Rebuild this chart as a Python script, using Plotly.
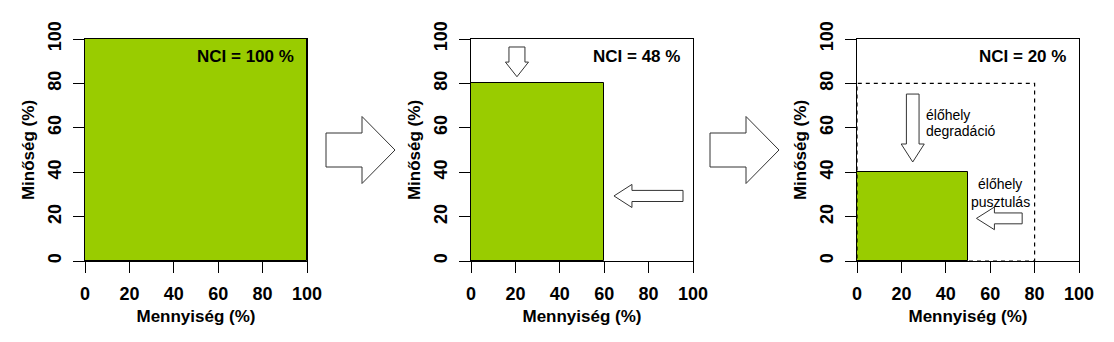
import plotly.graph_objects as go

# ---- data ----
panel_quantity = [100, 60, 50]      # Mennyiség (%)
panel_quality = [100, 80, 40]       # Minőség (%)
panel_nci = [100, 48, 20]           # NCI (%)
ref_box_quantity = 80               # dashed previous extent (panel 3)
ref_box_quality = 80
tick_vals = [0, 20, 40, 60, 80, 100]
x_title = "Mennyiség (%)"
y_title = "Minőség (%)"
label_degradation = ["élőhely", "degradáció"]
label_loss = ["élőhely", "pusztulás"]

W, H = 1114, 342
GREEN = "#99CC00"
FONT = "Liberation Sans, Arial, sans-serif"

# panel layout in pixels
panel_left = [85, 471, 857]
panel_w = 222
panel_top, panel_bottom = 39, 261

fig = go.Figure()

for i in range(3):
    n = "" if i == 0 else str(i + 1)
    xa, ya = "x" + n, "y" + n
    q, ql = panel_quantity[i], panel_quality[i]
    fig.add_trace(go.Bar(
        x=[q / 2], y=[ql], width=[q], base=0,
        marker=dict(color=GREEN, line=dict(color="black", width=1)),
        xaxis=xa, yaxis=ya, showlegend=False, hoverinfo="skip"))
    fig.add_annotation(
        x=95, y=92, xref=xa, yref=ya, text=f"NCI = {panel_nci[i]} %",
        showarrow=False, xanchor="right", yanchor="middle",
        font=dict(family=FONT, size=17, color="black", weight="bold"))

# dashed reference box on panel 3
rx, ry = ref_box_quantity, ref_box_quality
fig.add_trace(go.Scatter(
    x=[0, rx, rx, 0, 0], y=[0, 0, ry, ry, 0], mode="lines",
    line=dict(color="black", width=1.2, dash="4px,4px"),
    xaxis="x3", yaxis="y3", showlegend=False, hoverinfo="skip"))

axis_common = dict(
    range=[0, 100], showline=True, linecolor="black", linewidth=1, mirror=True,
    ticks="outside", ticklen=11, tickwidth=1, tickcolor="black",
    tickvals=tick_vals, showgrid=False, zeroline=False, automargin=False,
    tickfont=dict(family=FONT, size=18, color="black", weight="bold"),
)

ydom = [1 - panel_bottom / H, 1 - panel_top / H]
layout_axes = {}
for i in range(3):
    n = "" if i == 0 else str(i + 1)
    x0 = panel_left[i] / W
    x1 = (panel_left[i] + panel_w) / W
    layout_axes["xaxis" + n] = dict(
        axis_common, domain=[x0, x1], anchor="y" + n,
        ticklabelstandoff=5,
        title=dict(text=x_title, standoff=7,
                   font=dict(family=FONT, size=17, color="black", weight="bold")))
    layout_axes["yaxis" + n] = dict(
        axis_common, domain=ydom, anchor="x" + n, tickangle=-90,
        ticklabelstandoff=5,
        title=dict(text=y_title, standoff=5,
                   font=dict(family=FONT, size=17, color="black", weight="bold")))

fig.update_layout(**layout_axes)


# ---- arrows (decorations) ----
def down_arrow(xc, ytop, yhead, ytip, shw, hhw):
    return (f"M {xc-shw},{ytop} L {xc+shw},{ytop} L {xc+shw},{yhead} "
            f"L {xc+hhw},{yhead} L {xc},{ytip} L {xc-hhw},{yhead} "
            f"L {xc-shw},{yhead} Z")


def left_arrow(xtip, xhead, xend, yc, shh, hhh):
    return (f"M {xend},{yc+shh} L {xhead},{yc+shh} L {xhead},{yc+hhh} "
            f"L {xtip},{yc} L {xhead},{yc-hhh} L {xhead},{yc-shh} "
            f"L {xend},{yc-shh} Z")


def right_arrow_px(xstart, xhead, xtip, yc, shh, hhh):
    px = lambda v: v / W
    py = lambda v: 1 - v / H
    return (f"M {px(xstart)},{py(yc-shh)} L {px(xhead)},{py(yc-shh)} "
            f"L {px(xhead)},{py(yc-hhh)} L {px(xtip)},{py(yc)} "
            f"L {px(xhead)},{py(yc+hhh)} L {px(xhead)},{py(yc+shh)} "
            f"L {px(xstart)},{py(yc+shh)} Z")


arrow_line = dict(color="#333333", width=1)
shapes = [
    dict(type="path", xref="paper", yref="paper",
         path=right_arrow_px(326, 362, 395, 150, 17, 33.5),
         line=arrow_line, fillcolor="white"),
    dict(type="path", xref="paper", yref="paper",
         path=right_arrow_px(710, 746, 779, 150, 17, 33.5),
         line=arrow_line, fillcolor="white"),
    dict(type="path", xref="x2", yref="y2",
         path=down_arrow(20.7, 96.4, 89.6, 83, 3.6, 5.2),
         line=arrow_line, fillcolor="white"),
    dict(type="path", xref="x2", yref="y2",
         path=left_arrow(64.4, 72.5, 95.5, 29.3, 2.5, 5.2),
         line=arrow_line, fillcolor="white"),
    dict(type="path", xref="x3", yref="y3",
         path=down_arrow(25.1, 75.2, 52.7, 44.6, 2.85, 5.2),
         line=arrow_line, fillcolor="white"),
    dict(type="path", xref="x3", yref="y3",
         path=left_arrow(53.8, 61.9, 74.4, 19.2, 2.45, 5.1),
         line=arrow_line, fillcolor="white"),
]
fig.update_layout(shapes=shapes)

small_font = dict(family=FONT, size=14, color="black")
for txt, yv in zip(label_degradation, [65.8, 58.6]):
    fig.add_annotation(x=30, y=yv, xref="x3", yref="y3", text=txt,
                       showarrow=False, xanchor="left", yanchor="middle",
                       font=small_font)
for txt, yv in zip(label_loss, [34.7, 26.6]):
    fig.add_annotation(x=64.6, y=yv, xref="x3", yref="y3", text=txt,
                       showarrow=False, xanchor="center", yanchor="middle",
                       font=small_font)

fig.update_layout(
    width=W, height=H, margin=dict(l=0, r=0, t=0, b=0),
    paper_bgcolor="white", plot_bgcolor="white", bargap=0,
    font=dict(family=FONT, color="black"),
)

fig.write_html("out.html")
